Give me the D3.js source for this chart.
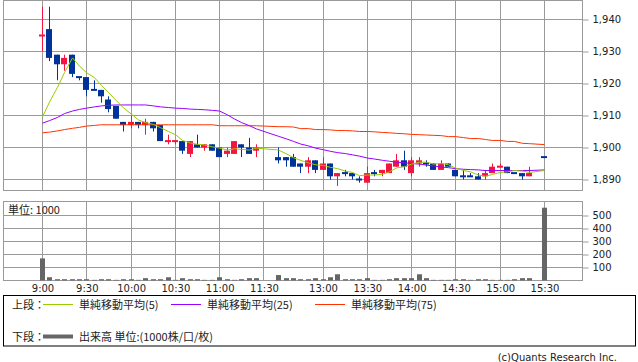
<!DOCTYPE html>
<meta charset="utf-8">
<style>
body { margin: 0; background: #fff; }
svg text { font-family: "DejaVu Sans", sans-serif; fill: #222; }
svg .jp { font-family: "Noto Sans CJK JP", sans-serif; }
</style>
<svg width="638" height="362"></svg>
<script src="https://d3js.org/d3.v7.min.js"></script>
<script>
// 5-minute candles: time, open, high, low, close
var candles = [
  ["9:00", 1935, 1944, 1930, 1935], ["9:05", 1937, 1944, 1927, 1928], ["9:10", 1929, 1929, 1921, 1926],
  ["9:15", 1926, 1929, 1924, 1928], ["9:20", 1929, 1929, 1922, 1923], ["9:25", 1922, 1922, 1921, 1922],
  ["9:30", 1922, 1922, 1916, 1918], ["9:35", 1918, 1921, 1918, 1918], ["9:40", 1918, 1918, 1914, 1916],
  ["9:45", 1915, 1916, 1911, 1912], ["9:50", 1913, 1913, 1909, 1909], ["9:55", 1908, 1908, 1905, 1907],
  ["10:00", 1907, 1910, 1906, 1908], ["10:05", 1908, 1908, 1906, 1907], ["10:10", 1907, 1909, 1904, 1908],
  ["10:15", 1908, 1908, 1905, 1906], ["10:20", 1907, 1907, 1902, 1902], ["10:25", 1902, 1904, 1901, 1902],
  ["10:30", 1902, 1902, 1901, 1902], ["10:35", 1902, 1902, 1898, 1899], ["10:40", 1898, 1902, 1897, 1902],
  ["10:45", 1901, 1904, 1900, 1900], ["10:50", 1900, 1901, 1899, 1901], ["10:55", 1901, 1901, 1899, 1899],
  ["11:00", 1900, 1900, 1897, 1897], ["11:05", 1898, 1900, 1897, 1899], ["11:10", 1898, 1902, 1898, 1902],
  ["11:15", 1901, 1901, 1897, 1900], ["11:20", 1900, 1903, 1898, 1898], ["11:25", 1899, 1901, 1897, 1900],
  ["12:30", 1897, 1900, 1895, 1896], ["12:35", 1897, 1897, 1894, 1896], ["12:40", 1897, 1898, 1894, 1894],
  ["12:45", 1895, 1895, 1892, 1894], ["12:50", 1894, 1897, 1892, 1896], ["12:55", 1896, 1896, 1892, 1893],
  ["13:00", 1893, 1897, 1893, 1895], ["13:05", 1895, 1895, 1890, 1891], ["13:10", 1891, 1892, 1888, 1892],
  ["13:15", 1892, 1893, 1891, 1892], ["13:20", 1892, 1892, 1890, 1891], ["13:25", 1890, 1891, 1889, 1890],
  ["13:30", 1889, 1894, 1889, 1892], ["13:35", 1892, 1893, 1891, 1892], ["13:40", 1892, 1893, 1891, 1893],
  ["13:45", 1892, 1895, 1892, 1895], ["13:50", 1894, 1898, 1894, 1896], ["13:55", 1896, 1899, 1893, 1894],
  ["14:00", 1892, 1897, 1891, 1896], ["14:05", 1895, 1897, 1894, 1896], ["14:10", 1895, 1896, 1894, 1895],
  ["14:15", 1895, 1895, 1893, 1893], ["14:20", 1893, 1896, 1893, 1895], ["14:25", 1895, 1895, 1894, 1894],
  ["14:30", 1893, 1893, 1891, 1891], ["14:35", 1891, 1893, 1890, 1891], ["14:40", 1891, 1892, 1891, 1891],
  ["14:45", 1891, 1892, 1890, 1890], ["14:50", 1891, 1893, 1890, 1892], ["14:55", 1892, 1895, 1892, 1894],
  ["15:00", 1894, 1895, 1894, 1894], ["15:05", 1894, 1894, 1892, 1892], ["15:10", 1892, 1892, 1892, 1892],
  ["15:15", 1892, 1892, 1890, 1891], ["15:20", 1891, 1894, 1891, 1892], ["15:30", 1897, 1897, 1897, 1897]
];
// doji bars that are drawn red
var dojiUp = ["9:00", "10:25", "10:30", "15:00"];
// last four closes of the previous session (feed the first MA5 points)
var prevCloses = [1905, 1903, 1905, 1900];

var ma25 = [
  1907.6, 1908.4, 1909.4, 1910.6, 1911.4, 1911.9, 1912.3, 1912.7, 1913.0, 1913.2,
  1913.3, 1913.3, 1913.3, 1913.3, 1913.3, 1913.0, 1912.7, 1912.5, 1912.3, 1912.2,
  1912.0, 1911.9, 1911.8, 1911.6, 1911.4, 1910.2, 1908.9, 1907.8, 1906.8, 1905.8,
  1903.5, 1902.7, 1901.9, 1901.1, 1900.5, 1899.8, 1899.3, 1898.8, 1898.4, 1898.1,
  1897.7, 1897.3, 1896.7, 1896.4, 1896.0, 1895.7, 1895.4, 1895.2, 1895.0, 1894.8,
  1894.5, 1894.2, 1893.9, 1893.7, 1893.4, 1893.2, 1893.1, 1893.0, 1892.8, 1892.8,
  1892.8, 1892.8, 1892.8, 1892.8, 1892.8, 1893.0
];
var ma75 = [
  1904.6, 1904.8, 1905.2, 1905.6, 1906.0, 1906.3, 1906.7, 1906.9, 1907.1, 1907.1,
  1907.1, 1907.1, 1907.1, 1907.1, 1907.1, 1907.1, 1907.1, 1907.1, 1907.1, 1907.1,
  1907.1, 1907.1, 1907.1, 1907.1, 1906.8, 1906.8, 1906.8, 1906.8, 1906.8, 1906.8,
  1906.5, 1906.5, 1906.4, 1905.9, 1905.9, 1905.6, 1905.6, 1905.5, 1905.3, 1905.3,
  1905.2, 1905.0, 1905.0, 1904.9, 1904.7, 1904.6, 1904.4, 1904.3, 1904.1, 1904.0,
  1903.9, 1903.8, 1903.7, 1903.4, 1903.4, 1903.1, 1902.8, 1902.8, 1902.5, 1902.2,
  1902.2, 1901.9, 1901.9, 1901.3, 1901.2, 1900.9
];
// volume in thousands of shares
var volumes = [
  170, 25, 10, 10, 10, 10, 10, 5, 10, 10, 5, 10, 10, 5, 18, 10, 10, 25, 5, 18,
  10, 10, 5, 5, 25, 10, 5, 10, 18, 18,
  42, 18, 18, 10, 10, 18, 10, 25, 48, 10, 10, 10, 18, 5, 5, 10, 18, 18, 18, 48,
  18, 5, 5, 5, 10, 10, 5, 10, 10, 5, 5, 5, 10, 18, 18, 560
];

var priceTicks = [1890, 1900, 1910, 1920, 1930, 1940];
var volTicks = [100, 200, 300, 400, 500];
var tickTimes = ["9:00", "9:30", "10:00", "10:30", "11:00", "11:30", "13:00", "13:30", "14:00", "14:30", "15:00", "15:30"];

var RED = "#f5143f", BLUE = "#003399", GRID = "#9a9a9a";

// time slots on the x axis: morning session, one empty slot for lunch, afternoon session
function fmt(m) { return Math.floor(m / 60) + ":" + d3.format("02")(m % 60) }
var slots = []
for (var m = 540; m <= 690; m += 5) slots.push(fmt(m))
slots.push("lunch")
for (var m = 750; m <= 930; m += 5) slots.push(fmt(m))

var svg = d3.select("svg")

var x = d3.scalePoint().domain(slots).range([42, 544])
var y = d3.scaleLinear().domain([1890, 1940]).range([179.5, 19.5])
var vy = d3.scaleLinear().domain([0, 500]).range([280.5, 215.5])

function px(t) { return Math.round(x(t)) }

var panels = [{ top: 0.5, bottom: 190.5 }, { top: 201.5, bottom: 280.5 }]

// grid
var grid = svg.append("g").attr("stroke", GRID).attr("stroke-width", 1).attr("fill", "none")
panels.forEach(function (p) {
  grid.selectAll(null).data(tickTimes).enter().append("line")
    .attr("x1", function (d) { return px(d) + 0.5 }).attr("x2", function (d) { return px(d) + 0.5 })
    .attr("y1", p.top).attr("y2", p.bottom)
  grid.append("rect").attr("x", 3.5).attr("y", p.top).attr("width", 579).attr("height", p.bottom - p.top)
})
grid.selectAll(null).data(priceTicks).enter().append("line")
  .attr("x1", 3.5).attr("x2", 582.5).attr("y1", y).attr("y2", y)
grid.selectAll(null).data(volTicks).enter().append("line")
  .attr("x1", 3.5).attr("x2", 582.5).attr("y1", vy).attr("y2", vy)

// axes
function styleAxis(g) {
  g.select(".domain").remove()
  g.selectAll(".tick line").attr("stroke", GRID)
  g.selectAll(".tick text").attr("fill", "#222").attr("font-size", 10).attr("font-family", "DejaVu Sans")
}
svg.append("g").attr("transform", "translate(582.5,0)")
  .call(d3.axisRight(y).tickValues(priceTicks).tickFormat(d3.format(",")).tickSize(6).tickPadding(4))
  .call(styleAxis)
svg.append("g").attr("transform", "translate(582.5,0)")
  .call(d3.axisRight(vy).tickValues(volTicks).tickSize(6).tickPadding(4))
  .call(styleAxis)
svg.append("g").attr("transform", "translate(0.5,280.5)")
  .call(d3.axisBottom(x).tickValues(tickTimes).tickSize(0).tickPadding(4.5))
  .call(styleAxis)

// moving averages
var allCloses = prevCloses.concat(candles.map(function (c) { return c[4] }))
var ma5 = candles.map(function (c, i) { return d3.mean(allCloses.slice(i, i + 5)) })

var line = function (vals) {
  return d3.line()
    .x(function (d, i) { return px(candles[i][0]) + 0.5 })
    .y(function (d) { return y(d) })(vals)
}
var maGroup = svg.append("g").attr("fill", "none").attr("stroke-width", 1)
maGroup.append("path").attr("d", line(ma75)).attr("stroke", "#ff3300")
maGroup.append("path").attr("d", line(ma25)).attr("stroke", "#9900ff")

// candles
function colorOf(c) {
  if (c[4] > c[1]) return RED
  if (c[4] < c[1]) return BLUE
  return dojiUp.indexOf(c[0]) >= 0 ? RED : BLUE
}
var cg = svg.append("g").selectAll("g").data(candles).enter().append("g")
cg.append("line")
  .attr("x1", function (c) { return px(c[0]) + 0.5 }).attr("x2", function (c) { return px(c[0]) + 0.5 })
  .attr("y1", function (c) { return y(c[2]) }).attr("y2", function (c) { return y(c[3]) })
  .attr("stroke", colorOf)
cg.append("rect")
  .attr("x", function (c) { return px(c[0]) - 3 })
  .attr("width", 6)
  .attr("y", function (c) {
    var top = y(Math.max(c[1], c[4])), h = y(Math.min(c[1], c[4])) - top
    return h < 2 ? top - 1 : top
  })
  .attr("height", function (c) { return Math.max(2, y(Math.min(c[1], c[4])) - y(Math.max(c[1], c[4]))) })
  .attr("fill", colorOf)

maGroup.raise()
maGroup.append("path").attr("d", line(ma5)).attr("stroke", "#99cc00")

// volume bars
svg.append("g").selectAll("rect").data(volumes).enter().append("rect")
  .attr("x", function (v, i) { return px(candles[i][0]) - 2 })
  .attr("width", 5)
  .attr("y", function (v) { return vy(v) })
  .attr("height", function (v) { return vy(0) - vy(v) })
  .attr("fill", "#666")

svg.append("text").attr("class", "jp").attr("x", 8).attr("y", 209)
  .attr("dominant-baseline", "central").attr("font-size", 11).text("単位: 1000")

// legend
var lg = svg.append("g")
lg.append("rect").attr("x", 3.5).attr("y", 295.5).attr("width", 632).attr("height", 50.5)
  .attr("fill", "none").attr("stroke", "#000")
var legendRows = [
  { y: 303.5, label: "上段：" },
  { y: 336, label: "下段：" }
]
lg.selectAll(null).data(legendRows).enter().append("text").attr("class", "jp")
  .attr("x", 12).attr("y", function (d) { return d.y }).attr("dominant-baseline", "central")
  .attr("font-size", 11).text(function (d) { return d.label })

var legendItems = [
  { x: 43, y: 303.5, color: "#99cc00", w: 1, label: "単純移動平均(5)" },
  { x: 171, y: 303.5, color: "#9900ff", w: 1, label: "単純移動平均(25)" },
  { x: 315, y: 303.5, color: "#ff3300", w: 1, label: "単純移動平均(75)" },
  { x: 43, y: 336, color: "#666", w: 4, label: "出来高 単位:(1000株/口/枚)" }
]
var li = lg.selectAll("g.item").data(legendItems).enter().append("g")
li.append("line").attr("x1", function (d) { return d.x }).attr("x2", function (d) { return d.x + 30 })
  .attr("y1", function (d) { return Math.round(d.y) + 0.5 }).attr("y2", function (d) { return Math.round(d.y) + 0.5 })
  .attr("stroke", function (d) { return d.color }).attr("stroke-width", function (d) { return d.w })
li.append("text").attr("class", "jp").attr("x", function (d) { return d.x + 36 })
  .attr("y", function (d) { return d.y }).attr("dominant-baseline", "central").attr("font-size", 11)
  .text(function (d) { return d.label })

svg.append("text").attr("x", 617).attr("y", 357).attr("text-anchor", "end")
  .attr("dominant-baseline", "central").attr("font-size", 10).attr("fill", "#444")
  .attr("font-family", "Liberation Sans").text("(c)Quants Research Inc.")
</script>
